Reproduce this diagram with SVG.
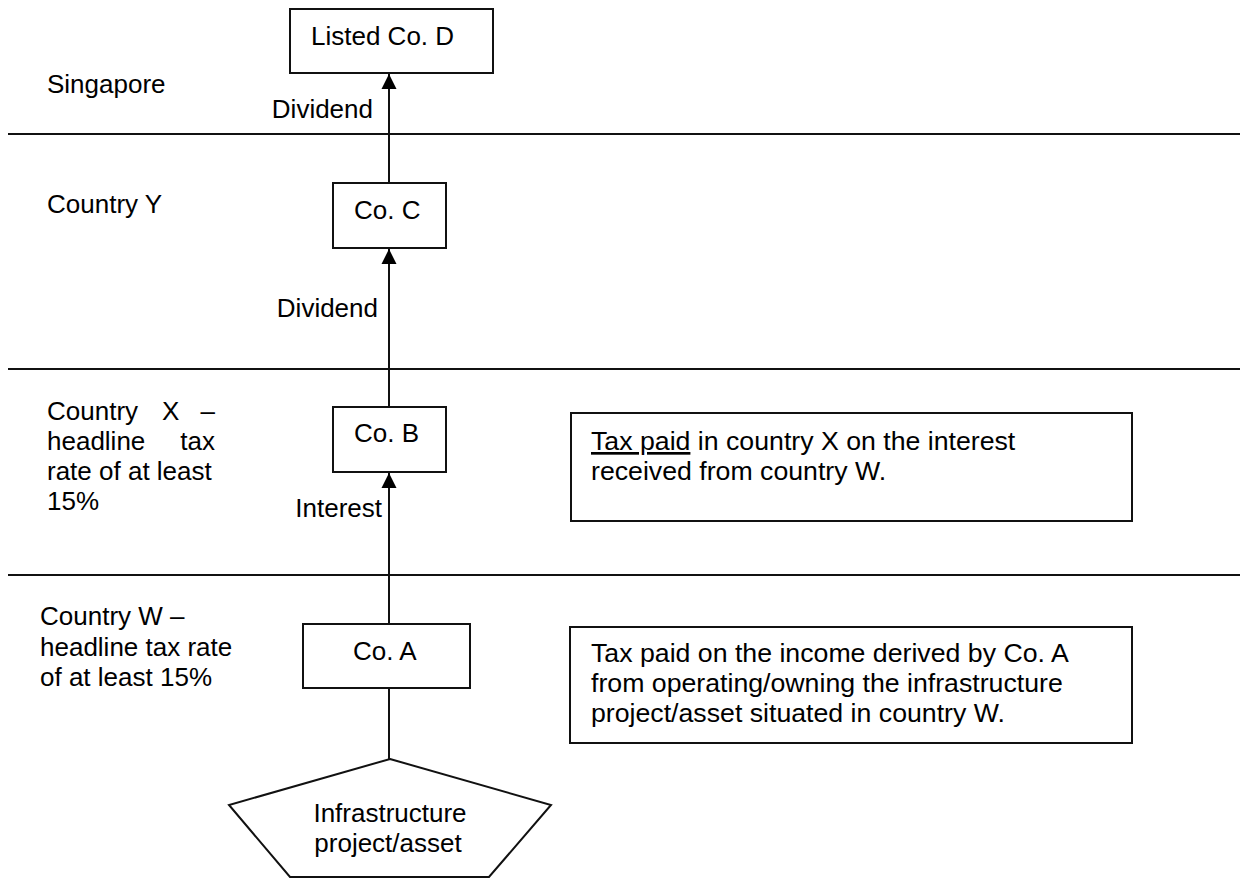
<svg xmlns="http://www.w3.org/2000/svg" width="1242" height="879" viewBox="0 0 1242 879">
<style>
text{font-family:"Liberation Sans",Arial,sans-serif;font-size:26px;fill:#000}
.note{font-size:26.7px}
.box{fill:#fff;stroke:#111;stroke-width:2}
.sep{stroke:#111;stroke-width:2}
.con{stroke:#111;stroke-width:2;fill:none}
.mid{text-anchor:middle}
.end{text-anchor:end}
</style>
<defs>
<marker id="arr" markerUnits="userSpaceOnUse" markerWidth="16" markerHeight="16" refX="15" refY="8" orient="auto">
<path d="M0,0.5 L15,8 L0,15.5 z" fill="#000"/>
</marker>
</defs>
<g id="separators">
<line class="sep" x1="8" y1="134" x2="1240" y2="134"/>
<line class="sep" x1="8" y1="369" x2="1240" y2="369"/>
<line class="sep" x1="8" y1="575" x2="1240" y2="575"/>
</g>
<g id="region-labels">
<text x="47" y="93">Singapore</text>
<text x="47" y="213">Country Y</text>
<text y="420"><tspan x="47">Country</tspan><tspan x="162">X</tspan><tspan x="215" class="end">–</tspan></text>
<text y="450"><tspan x="47">headline</tspan><tspan x="215" class="end">tax</tspan></text>
<text x="47" y="480">rate of at least</text>
<text x="47" y="510">15%</text>
<text x="40" y="625">Country W –</text>
<text x="40" y="656">headline tax rate</text>
<text x="40" y="686">of at least 15%</text>
</g>
<g id="connectors">
<line class="con" x1="389" y1="183" x2="389" y2="74" marker-end="url(#arr)"/>
<line class="con" x1="389" y1="407" x2="389" y2="249" marker-end="url(#arr)"/>
<line class="con" x1="389" y1="624" x2="389" y2="473" marker-end="url(#arr)"/>
<line class="con" x1="389" y1="759" x2="389" y2="688"/>
<text class="end" x="373" y="118">Dividend</text>
<text class="end" x="378" y="317">Dividend</text>
<text class="end" x="382" y="517">Interest</text>
</g>
<g id="listed-co-d">
<rect class="box" x="290" y="9" width="203" height="64"/>
<text x="311" y="45">Listed Co. D</text>
</g>
<g id="co-c">
<rect class="box" x="333" y="183" width="113" height="65"/>
<text x="354" y="219">Co. C</text>
</g>
<g id="co-b">
<rect class="box" x="333" y="407" width="113" height="65"/>
<text x="354" y="442">Co. B</text>
</g>
<g id="co-a">
<rect class="box" x="303" y="624" width="167" height="64"/>
<text x="353" y="660">Co. A</text>
</g>
<g id="infrastructure">
<polygon class="box" points="390,759 551,805 489,877 290,877 229,805"/>
<text class="mid" x="390" y="822">Infrastructure</text>
<text class="mid" x="388" y="852">project/asset</text>
</g>
<g id="note-x">
<rect class="box" x="571" y="413" width="561" height="108"/>
<text class="note" x="591" y="450"><tspan text-decoration="underline">Tax paid</tspan> in country X on the interest</text>
<text class="note" x="591" y="480">received from country W.</text>
</g>
<g id="note-w">
<rect class="box" x="570" y="627" width="562" height="116"/>
<text class="note" x="591" y="662">Tax paid on the income derived by Co. A</text>
<text class="note" x="591" y="692">from operating/owning the infrastructure</text>
<text class="note" x="591" y="722">project/asset situated in country W.</text>
</g>
</svg>
